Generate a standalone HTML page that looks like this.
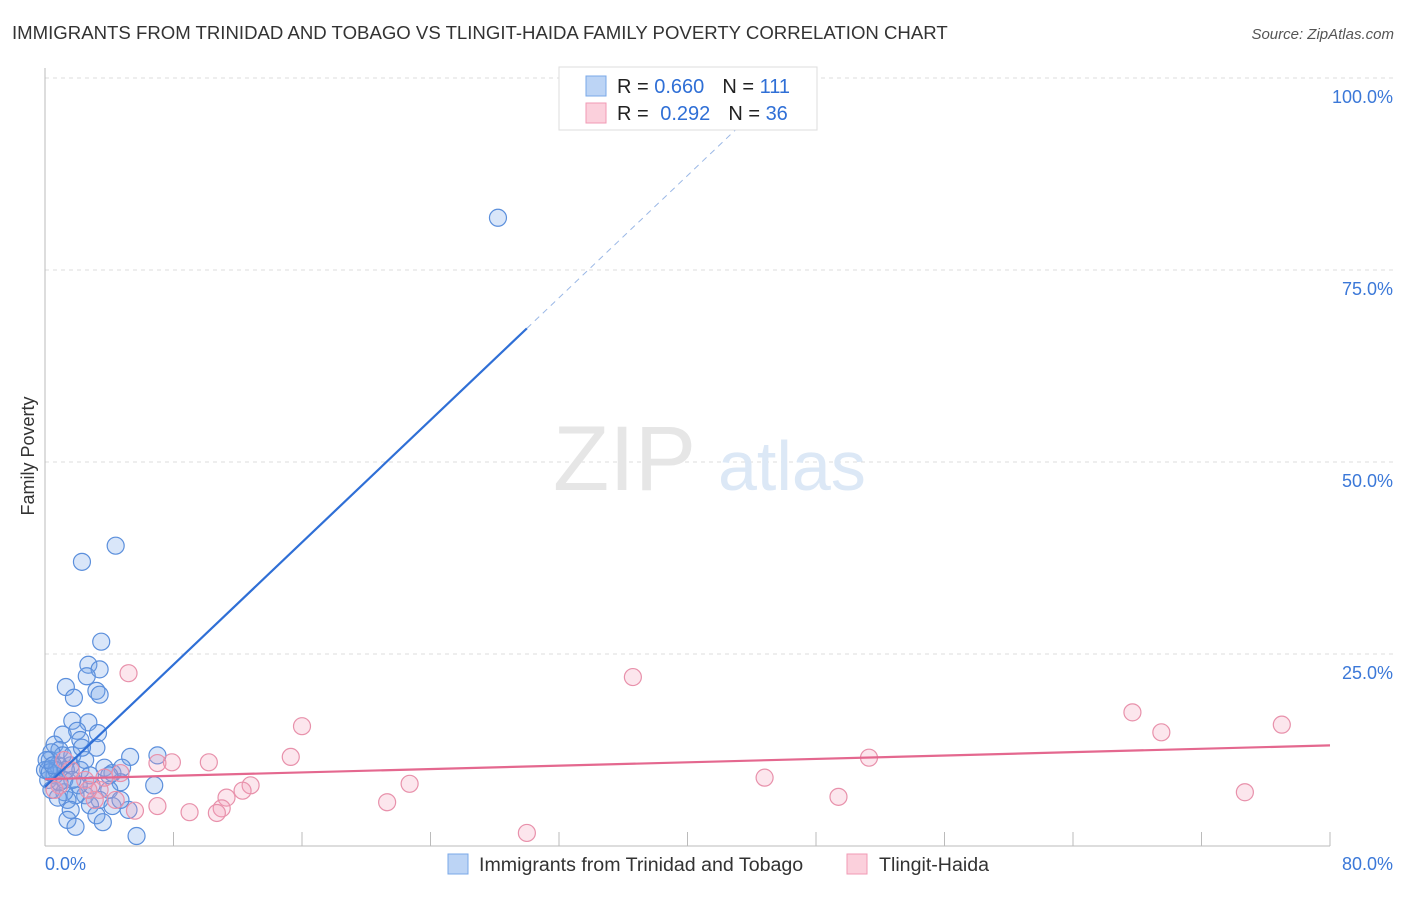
<!DOCTYPE html>
<html><head><meta charset="utf-8">
<style>
body{margin:0;background:#fff;font-family:"Liberation Sans",sans-serif;}
svg text{font-family:"Liberation Sans",sans-serif;}
</style></head>
<body>
<svg id="chart" width="1406" height="892">
<text x="12" y="39" font-size="18.6" fill="#333">IMMIGRANTS FROM TRINIDAD AND TOBAGO VS TLINGIT-HAIDA FAMILY POVERTY CORRELATION CHART</text>
<text x="1394" y="39" font-size="15" fill="#555" font-style="italic" text-anchor="end">Source: ZipAtlas.com</text>
<text transform="translate(34,456) rotate(-90)" font-size="18" fill="#333" text-anchor="middle">Family Poverty</text>
<g id="grid"></g>
<text x="553" y="490" font-size="92" fill="#e6e6e6" font-family="Liberation Serif">ZIP</text>
<text x="718" y="490" font-size="70" fill="#dce8f6">atlas</text>
<g id="marks"></g>
<g>
<rect x="559" y="67" width="258" height="63" fill="#fff" stroke="#ddd"/>
<rect x="586" y="76" width="20" height="20" fill="#bcd4f5" stroke="#7aa8e8"/>
<rect x="586" y="103" width="20" height="20" fill="#fbd0dc" stroke="#f09ab4"/>
<text x="617" y="93" font-size="20" fill="#222">R = <tspan fill="#2f6fd6">0.660</tspan><tspan dx="18">N = </tspan><tspan fill="#2f6fd6">111</tspan></text>
<text x="617" y="120" font-size="20" fill="#222">R = <tspan dx="6" fill="#2f6fd6">0.292</tspan><tspan dx="18">N = </tspan><tspan fill="#2f6fd6">36</tspan></text>
</g>
<g>
<rect x="448" y="854" width="20" height="20" fill="#bcd4f5" stroke="#7aa8e8"/>
<text x="479" y="871" font-size="19.6" fill="#333">Immigrants from Trinidad and Tobago</text>
<rect x="847" y="854" width="20" height="20" fill="#fbd0dc" stroke="#f09ab4"/>
<text x="879" y="871" font-size="19.6" fill="#333">Tlingit-Haida</text>
</g>
</svg>
<script>
const yTicks=[25,50,75,100];
const yTickLabels=["25.0%","50.0%","75.0%","100.0%"];
const xTicks=[0,8,16,24,32,40,48,56,64,72,80];
const blueX=[28.2,4.4,2.3,3.5,2.7,3.4,2.6,1.3,3.2,1.8,3.4,1.7,2.7,2.0,3.3,1.1,2.2,3.2,7.0,5.3,0.6,0.9,0.3,0.2,0.6,1.6,1.2,2.2,2.8,3.7,4.2,4.8,4.7,6.8,4.0,3.4,2.5,1.9,1.4,2.8,4.2,5.2,1.6,3.2,1.4,1.9,3.6,5.7,0.2,0.4,0.8,1.1,0.0,0.4,0.7,1.7,2.5,2.9,2.1,2.3,1.2,0.8,4.0,0.3,1.3,1.7,0.1,0.5,0.9,4.7];
const blueY=[81.8,39.1,37.0,26.6,23.6,23.0,22.1,20.7,20.2,19.3,19.7,16.3,16.1,15.0,14.7,14.5,13.8,12.8,11.8,11.6,13.2,12.5,11.2,9.9,9.2,10.5,8.6,9.9,9.2,10.2,9.5,10.2,8.3,7.9,7.3,6.0,6.6,6.6,6.0,5.3,5.2,4.7,4.7,4.0,3.4,2.5,3.1,1.3,8.6,7.3,10.5,11.8,9.9,12.2,9.9,11.8,11.2,7.9,7.9,12.8,7.0,6.3,9.2,9.6,9.9,8.6,11.2,10.5,8.3,6.0];
const pinkX=[5.2,36.6,16.0,67.7,69.5,77.0,15.3,10.2,7.0,7.9,51.3,44.8,12.8,12.3,22.7,21.3,49.4,74.7,30.0,11.3,11.0,10.7,9.0,7.0,5.6,4.7,3.4,3.1,2.5,0.9,0.6,1.6,3.7,4.4,1.2,2.7];
const pinkY=[22.5,22.0,15.6,17.4,14.8,15.8,11.6,10.9,10.8,10.9,11.5,8.9,7.9,7.2,8.1,5.7,6.4,7.0,1.7,6.3,4.9,4.3,4.4,5.2,4.6,9.5,7.3,6.0,8.6,7.9,7.3,9.9,8.9,6.0,11.2,7.3];
const blueTrend=[7.7,1.99];
const pinkTrend=[8.7,0.055];
const NS="http://www.w3.org/2000/svg";
const X0=45,X1=1330,Y0=846,Y100=78;
function sx(v){return X0+(X1-X0)*v/80;}
function sy(v){return Y0-(Y0-Y100)*v/100;}
function mk(tag,at,parent){const e=document.createElementNS(NS,tag);for(const k in at)e.setAttribute(k,at[k]);parent.appendChild(e);return e;}
const grid=document.getElementById('grid'),marks=document.getElementById('marks');
yTicks.forEach((t,i)=>{
 const l=mk('line',{x1:X0,x2:1394,y1:sy(t),y2:sy(t),stroke:'#ddd','stroke-dasharray':'4,4'},grid);
 
 
 const tx=mk('text',{x:1393,y:sy(t)+25,'font-size':18,fill:'#3b78d8','text-anchor':'end'},grid);
 tx.textContent=yTickLabels[i];
 
 
});
const ax=mk('line',{x1:X0,x2:X1,y1:Y0,y2:Y0,stroke:'#bbb'},grid);


const ay=mk('line',{x1:X0,x2:X0,y1:68,y2:Y0,stroke:'#bbb'},grid);


xTicks.forEach(t=>{
 const l=mk('line',{x1:sx(t),x2:sx(t),y1:832,y2:Y0,stroke:'#bbb'},grid);
 
 
});
const xl0=mk('text',{x:45,y:870,'font-size':18,fill:'#3b78d8'},grid);xl0.textContent='0.0%';


const xl1=mk('text',{x:1393,y:870,'font-size':18,fill:'#3b78d8','text-anchor':'end'},grid);xl1.textContent='80.0%';


function dots(xs,ys,fill,stroke,name){xs.forEach((x,i)=>{
 const c=mk('circle',{cx:sx(x),cy:sy(ys[i]),r:8.5,fill:fill,stroke:stroke,'stroke-width':1.2},marks);
 
 
});}
dots(blueX,blueY,'rgba(120,165,235,0.28)','#5b8fdc','blue-point');
dots(pinkX,pinkY,'rgba(245,160,185,0.26)','#e891ab','pink-point');
const bxEnd=30,bxDash=(100-blueTrend[0])/blueTrend[1];
const bl=mk('line',{x1:sx(0),y1:sy(blueTrend[0]),x2:sx(bxEnd),y2:sy(blueTrend[0]+blueTrend[1]*bxEnd),stroke:'#2f6fd6','stroke-width':2.2},marks);


const bd=mk('line',{x1:sx(bxEnd),y1:sy(blueTrend[0]+blueTrend[1]*bxEnd),x2:sx(bxDash),y2:sy(100),stroke:'#9bb8e6','stroke-width':1,'stroke-dasharray':'6,5'},marks);


const pl=mk('line',{x1:sx(0),y1:sy(pinkTrend[0]),x2:sx(80),y2:sy(pinkTrend[0]+pinkTrend[1]*80),stroke:'#e4688f','stroke-width':2.2},marks);


</script>
</body></html>
